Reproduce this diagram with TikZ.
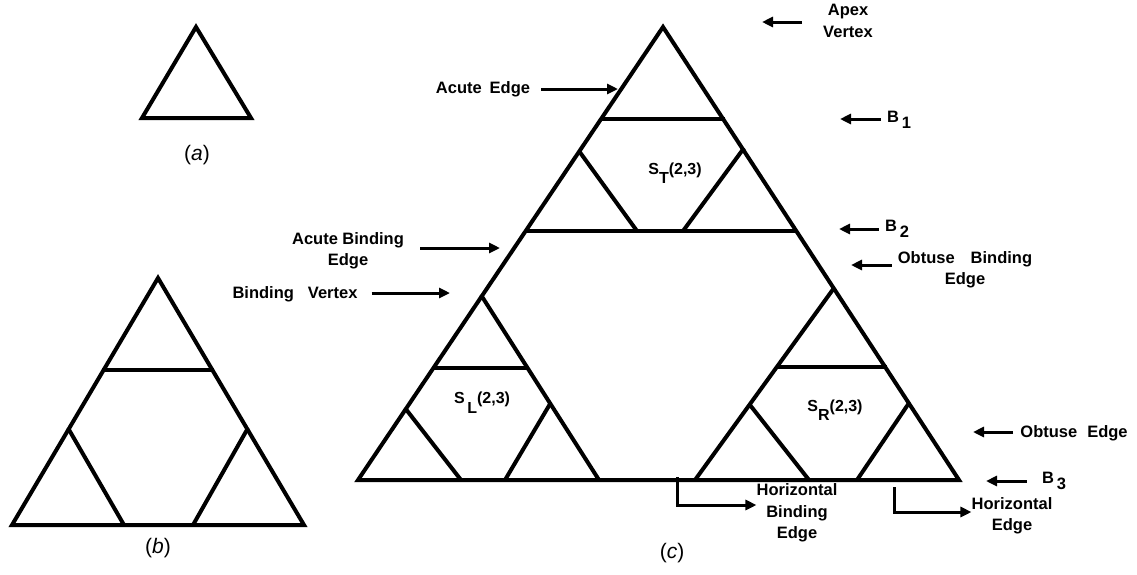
\documentclass[tikz,border=0pt]{standalone}
\usepackage{fontspec}
\setmainfont{Liberation Sans}
\usetikzlibrary{arrows.meta}

\begin{document}
\begin{tikzpicture}[
  x=1pt, y=-1pt,
  tri/.style={line width=4pt},
  pointer/.style={line width=3pt, -{Triangle[length=11pt,width=10pt]}},
  lbl/.style={font=\bfseries\fontsize{16.5}{21.5}\selectfont, align=center, inner sep=0pt},
  sublbl/.style={font=\bfseries\fontsize{16}{19}\selectfont, inner sep=0pt},
  figcap/.style={font=\fontsize{21}{25}\selectfont, inner sep=0pt}
]
  \useasboundingbox (0,0) rectangle (1137,574);

  % (a)
  \draw[tri] (142,118) -- (196,27) -- (251,118) -- cycle;
  \node[figcap] (capA) at (197,155) {(\textit{a})};

  % (b)
  \draw[tri] (158,278) -- (12,525) -- (304,525) -- cycle;
  \draw[tri] (102,370) -- (214,370);
  \draw[tri] (68,428) -- (124,525);
  \draw[tri] (248,428) -- (193,525);
  \node[figcap] (capB) at (158,548) {(\textit{b})};

  % (c)
  \draw[tri] (663,27) -- (358,480) -- (959,480) -- cycle;
  \draw[tri] (600,119) -- (725,119);
  \draw[tri] (526,231) -- (797,231);
  \draw[tri] (579,151) -- (637,231);
  \draw[tri] (744,148) -- (683,231);
  % left part
  \draw[tri] (481,295) -- (599,480);
  \draw[tri] (432,368) -- (528,368);
  \draw[tri] (405,408) -- (461,480);
  \draw[tri] (550,404) -- (505,480);
  % right part
  \draw[tri] (834,288) -- (695,480);
  \draw[tri] (777,367) -- (887,367);
  \draw[tri] (750,405) -- (809,480);
  \draw[tri] (909,403) -- (857,480);
  \node[figcap] (capC) at (672,553) {(\textit{c})};

  \node[sublbl] (sT) at (675,173) {S\raisebox{-9pt}{T}(2,3)};
  \node[sublbl] (sL) at (482,403) {S\,\raisebox{-10pt}{L}(2,3)};
  \node[sublbl] (sR) at (835,410) {S\raisebox{-9pt}{R}(2,3)};

  % labels on the left
  \node[lbl] (acuteE) at (483,89) {Acute\hspace{8pt}Edge};
  \coordinate (acuteTip) at (618,89);
  \draw[pointer, shorten <=11pt] (acuteE.east |- acuteTip) -- (acuteTip);

  \node[lbl] (acuteB) at (348,251) {Acute Binding\\Edge};
  \coordinate (acuteBTip) at (500,248);
  \draw[pointer, shorten <=16pt] (acuteB.east |- acuteBTip) -- (acuteBTip);

  \node[lbl] (bindV) at (295,294) {Binding\hspace{14pt}Vertex};
  \coordinate (bindVTip) at (450,293);
  \draw[pointer, shorten <=14pt] (bindV.east |- bindVTip) -- (bindVTip);

  % labels on the right
  \node[lbl] (apexV) at (848,21) {Apex\\Vertex};
  \coordinate (apexTip) at (762,22);
  \draw[pointer, shorten <=21pt] (apexV.west |- apexTip) -- (apexTip);

  \node[lbl] (bOne) at (899,120) {B\,\raisebox{-6pt}{1}};
  \coordinate (bOneTip) at (840,119);
  \draw[pointer, shorten <=6pt] (bOne.west |- bOneTip) -- (bOneTip);

  \node[lbl] (bTwo) at (897,229) {B\,\raisebox{-6pt}{2}};
  \coordinate (bTwoTip) at (839,229);
  \draw[pointer, shorten <=6pt] (bTwo.west |- bTwoTip) -- (bTwoTip);

  \node[lbl] (obtuseB) at (965,270) {Obtuse\hspace{16pt}Binding\\Edge};
  \coordinate (obtuseBTip) at (851,265);
  \draw[pointer, shorten <=6pt] (obtuseB.west |- obtuseBTip) -- (obtuseBTip);

  \node[lbl] (obtuseE) at (1074,433) {Obtuse\hspace{10pt}Edge};
  \coordinate (obtuseETip) at (973,432);
  \draw[pointer, shorten <=7pt] (obtuseE.west |- obtuseETip) -- (obtuseETip);

  \node[lbl] (bThree) at (1054,481) {B\,\raisebox{-6pt}{3}};
  \coordinate (bThreeTip) at (986,481);
  \draw[pointer, shorten <=15pt] (bThree.west |- bThreeTip) -- (bThreeTip);

  % labels below
  \node[lbl] (horB) at (797,513) {Horizontal\\Binding\\Edge};
  \coordinate (horBFoot) at (677,477);
  \draw[pointer] (horBFoot) |- ([yshift=8pt]horB.west);

  \node[lbl] (horE) at (1012,516) {Horizontal\\Edge};
  \coordinate (horEFoot) at (894,487);
  \draw[pointer] (horEFoot) |- ([yshift=4pt]horE.west);

\end{tikzpicture}
\end{document}
